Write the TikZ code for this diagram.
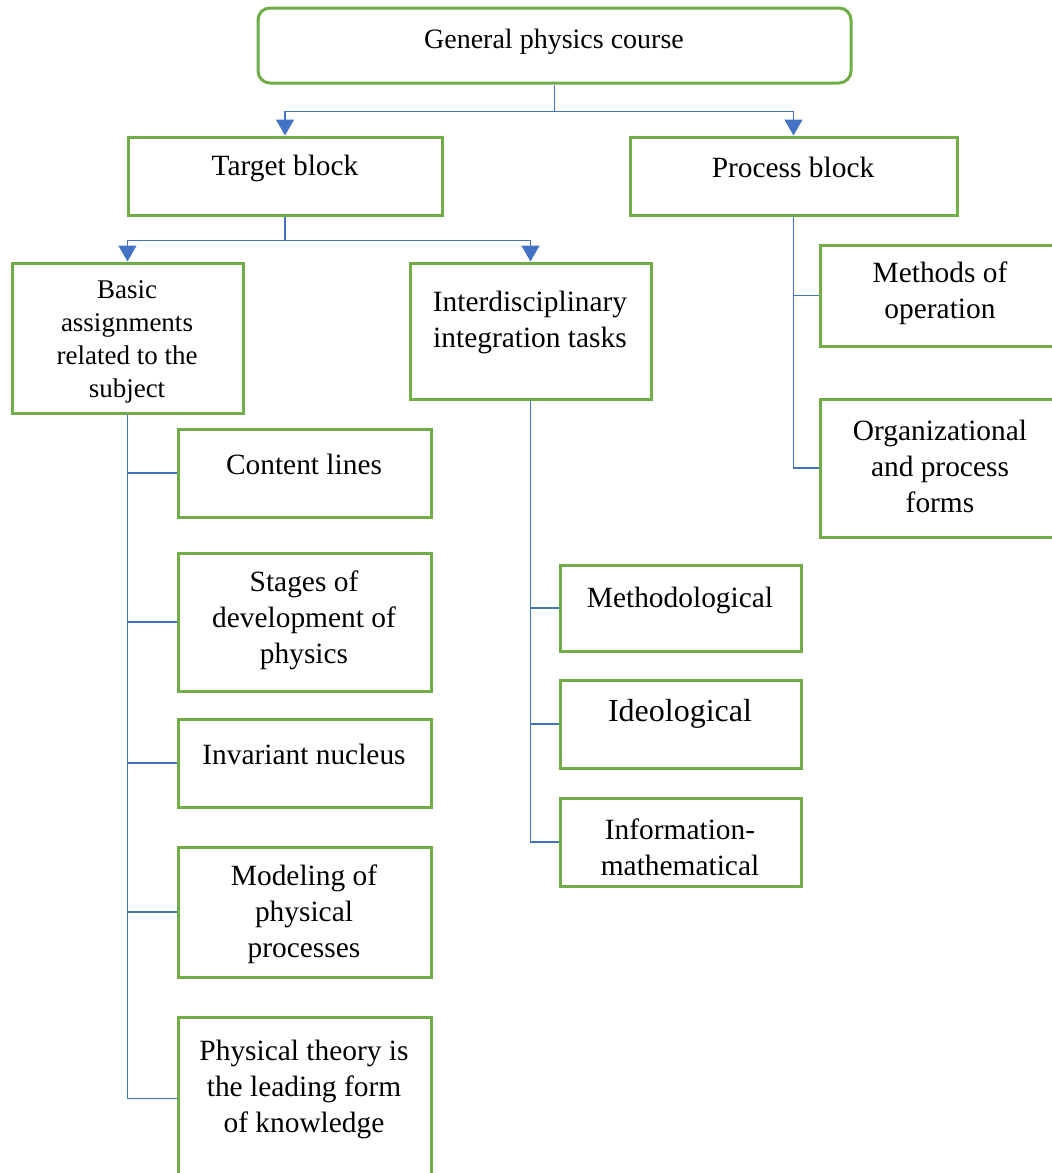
\documentclass[tikz,border=0pt]{standalone}
\usepackage{fontspec}
\setmainfont{Liberation Serif}
\usepackage{tikz}
\usetikzlibrary{arrows.meta,positioning}
\usepackage{xcolor}
\definecolor{pgreen}{RGB}{112,173,71}
\definecolor{pblue}{RGB}{68,114,196}
\tikzstyle{blk} = [rectangle, draw=pgreen, line width=1.5pt, inner sep=0pt]
\tikzstyle{txt} = [align=center, inner sep=0pt, font=\fontsize{14.7}{18}\selectfont]
\tikzstyle{flow} = [draw=pblue, line width=0.75pt, -{Triangle[width=9pt,length=8pt]}]
\tikzstyle{link} = [draw=pblue, line width=0.75pt]

\begin{document}
\begin{tikzpicture}[x=0.5pt, y=-0.5pt]
    \useasboundingbox (0,0) rectangle (1051,1173);

    % Course
    \node[blk, rounded corners=6pt, minimum width=296.5pt, minimum height=37.5pt] (general) at (554.5, 45.5) {};
    \node[txt, font=\fontsize{14}{18}\selectfont] (generalT) at (554, 42) {General physics course};

    % Target block
    \node[blk, minimum width=157pt, minimum height=39pt] (target) at (285, 176) {};
    \node[txt] (targetT) at (285, 168) {Target block};

    % Process block
    \node[blk, minimum width=163.5pt, minimum height=39pt] (process) at (793.5, 176) {};
    \node[txt] (processT) at (793, 167) {Process block};

    % Basic assignments
    \node[blk, minimum width=115.5pt, minimum height=75pt] (basic) at (127.5, 338) {};
    \node[txt, font=\fontsize{13.5}{16.5}\selectfont] (basicT) at (127, 342) {Basic\\ assignments\\ related to the\\ subject};

    % Interdisciplinary
    \node[blk, minimum width=120.5pt, minimum height=68pt] (inter) at (530.5, 331) {};
    \node[txt] (interT) at (530, 322) {Interdisciplinary\\ integration tasks};

    % Process children
    \node[blk, minimum width=120pt, minimum height=50.5pt] (methods) at (940, 295.5) {};
    \node[txt] (methodsT) at (940, 293) {Methods of\\ operation};
    \node[blk, minimum width=120pt, minimum height=69pt] (org) at (940, 468) {};
    \node[txt] (orgT) at (940, 466) {Organizational\\ and process\\ forms};

    % Subject children
    \node[blk, minimum width=126.5pt, minimum height=44pt] (content) at (304.5, 473) {};
    \node[txt] (contentT) at (304, 464) {Content lines};
    \node[blk, minimum width=126.5pt, minimum height=69pt] (stages) at (304.5, 622) {};
    \node[txt] (stagesT) at (304, 620) {Stages of\\ development of\\ physics};
    \node[blk, minimum width=126.5pt, minimum height=44pt] (invariant) at (304.5, 763) {};
    \node[txt] (invariantT) at (304, 754) {Invariant nucleus};
    \node[blk, minimum width=126.5pt, minimum height=65pt] (modeling) at (304.5, 912) {};
    \node[txt] (modelingT) at (304, 914) {Modeling of\\ physical\\ processes};
    \node[blk, minimum width=126.5pt, minimum height=81.5pt] (theory) at (304.5, 1098.5) {};
    \node[txt] (theoryT) at (304, 1089) {Physical theory is\\ the leading form\\ of knowledge};

    % Integration children
    \node[blk, minimum width=120.5pt, minimum height=43pt] (method) at (680.5, 608) {};
    \node[txt] (methodT) at (680, 600) {Methodological};
    \node[blk, minimum width=120.5pt, minimum height=44pt] (ideo) at (680.5, 724) {};
    \node[txt, font=\fontsize{16}{18}\selectfont] (ideoT) at (680, 714) {Ideological};
    \node[blk, minimum width=120.5pt, minimum height=44pt] (info) at (680.5, 842) {};
    \node[txt] (infoT) at (680, 847) {Information-\\ mathematical};

    % Arrows
    \draw[flow] (general.south) -- ++(0,27) -| (target.north);
    \draw[flow] (general.south) -- ++(0,27) -| (process.north);
    \draw[flow] (target.south) -- ++(0,24) -| (basic.north);
    \draw[flow] (target.south) -- ++(0,24) -| (inter.north);

    % Branches
    \foreach \n in {methods,org}
        \draw[link] (process.south) |- (\n.west);
    \foreach \n in {content,stages,invariant,modeling,theory}
        \draw[link] (basic.south) |- (\n.west);
    \foreach \n in {method,ideo,info}
        \draw[link] (inter.south) |- (\n.west);
\end{tikzpicture}
\end{document}
